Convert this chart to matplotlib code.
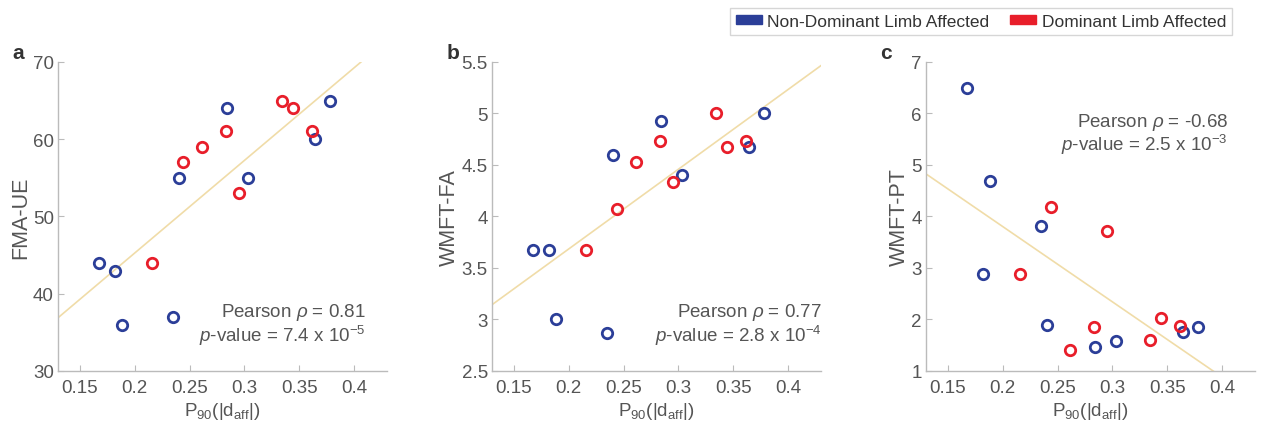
import numpy as np
import matplotlib.pyplot as plt
from matplotlib.patches import Patch

plt.rcParams['font.family'] = ['Liberation Sans', 'DejaVu Sans']
plt.rcParams['mathtext.fontset'] = 'custom'
plt.rcParams['mathtext.rm'] = 'Liberation Sans'
plt.rcParams['mathtext.it'] = 'Liberation Sans:italic'
plt.rcParams['mathtext.default'] = 'regular'

# P90(|d_aff|) per patient
x_nondom = [0.167, 0.182, 0.188, 0.235, 0.240, 0.284, 0.303, 0.364, 0.378]
x_dom = [0.216, 0.244, 0.261, 0.283, 0.295, 0.334, 0.344, 0.362]

fma_nondom = [44, 43, 36, 37, 55, 64, 55, 60, 65]
fma_dom = [44, 57, 59, 61, 53, 65, 64, 61]

wmft_fa_nondom = [3.67, 3.67, 3.0, 2.87, 4.6, 4.93, 4.4, 4.67, 5.0]
wmft_fa_dom = [3.67, 4.07, 4.53, 4.73, 4.33, 5.0, 4.67, 4.73]

wmft_pt_nondom = [6.5, 2.88, 4.68, 3.81, 1.89, 1.47, 1.58, 1.75, 1.85]
wmft_pt_dom = [2.88, 4.19, 1.40, 1.86, 3.71, 1.60, 2.03, 1.88]

panels = [
    ('a', 'FMA-UE', fma_nondom, fma_dom, (30, 70), [30, 40, 50, 60, 70],
     ['30', '40', '50', '60', '70'], '0.81', '7.4', '-5', (0.935, 0.225)),
    ('b', 'WMFT-FA', wmft_fa_nondom, wmft_fa_dom, (2.5, 5.5),
     [2.5, 3, 3.5, 4, 4.5, 5, 5.5], ['2.5', '3', '3.5', '4', '4.5', '5', '5.5'],
     '0.77', '2.8', '-4', (1.003, 0.225)),
    ('c', 'WMFT-PT', wmft_pt_nondom, wmft_pt_dom, (1, 7), [1, 2, 3, 4, 5, 6, 7],
     ['1', '2', '3', '4', '5', '6', '7'], '-0.68', '2.5', '-3', (0.918, 0.84)),
]

xticks = [0.15, 0.2, 0.25, 0.3, 0.35, 0.4]
xticklabels = ['0.15', '0.2', '0.25', '0.3', '0.35', '0.4']

blue = '#2B3E98'
red = '#E81E2A'
line_col = '#F0DCA8'
grey = '#555555'

fig = plt.figure(figsize=(12.7, 4.31), dpi=100)
lefts = [0.0457, 0.3874, 0.7291]

for left, (letter, ylab, y_nd, y_d, ylim, yt, ytl, rho, pm, pe, tpos) in zip(lefts, panels):
    ax = fig.add_axes([left, 0.137, 0.259, 0.717])
    xs = np.array(x_nondom + x_dom)
    ys = np.array(y_nd + y_d)
    k, b = np.polyfit(xs, ys, 1)
    xx = np.array([0.13, 0.43])
    ax.plot(xx, k * xx + b, color=line_col, lw=1.2, zorder=1)
    ax.plot(x_nondom, y_nd, 'o', mfc='none', mec=blue, mew=2.0, ms=7.5, zorder=3)
    ax.plot(x_dom, y_d, 'o', mfc='none', mec=red, mew=2.0, ms=7.5, zorder=3)
    ax.set_xlim(0.13, 0.43)
    ax.set_ylim(*ylim)
    ax.set_xticks(xticks)
    ax.set_xticklabels(xticklabels)
    ax.set_yticks(yt)
    ax.set_yticklabels(ytl)
    for s in ['top', 'right']:
        ax.spines[s].set_visible(False)
    for s in ['left', 'bottom']:
        ax.spines[s].set_color('#bbbbbb')
        ax.spines[s].set_linewidth(1.0)
    ax.tick_params(direction='in', length=4, color='#bbbbbb', labelsize=13.5,
                   labelcolor=grey)
    ax.tick_params(axis='x', pad=6)
    ax.tick_params(axis='y', pad=3)
    ax.set_ylabel(ylab, fontsize=15.5, color=grey, labelpad=1)
    ax.set_xlabel(r'P$_{90}$(|d$_{aff}$|)', fontsize=13.5, color=grey, labelpad=3)
    ax.text(tpos[0], tpos[1],
            'Pearson $\\mathit{\u03c1}$ = ' + rho + '\n$\\mathit{p}$-value = ' + pm +
            ' x 10$^{' + pe + '}$',
            transform=ax.transAxes, ha='right', va='top', fontsize=13.5, color=grey,
            linespacing=1.0)
    fig.text(left - 0.036, 0.863, letter, fontsize=15, fontweight='bold', color='#333333')

handles = [Patch(color=blue), Patch(color=red)]
leg = fig.legend(handles, ['Non-Dominant Limb Affected', 'Dominant Limb Affected'],
                 loc='upper right', bbox_to_anchor=(0.977, 1.0), ncol=2, fontsize=12.5,
                 frameon=True, fancybox=False, edgecolor='#cccccc',
                 handlelength=1.5, handleheight=0.35, handletextpad=0.3,
                 columnspacing=1.2, borderpad=0.35)
for t in leg.get_texts():
    t.set_color('#333333')

fig.savefig('out.png', dpi=100)
